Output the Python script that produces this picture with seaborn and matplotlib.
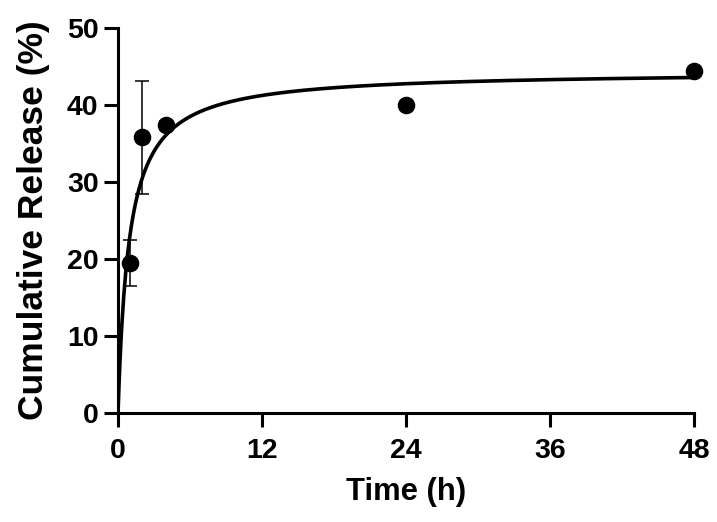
import numpy as np
import pandas as pd
import matplotlib
matplotlib.use("Agg")
import matplotlib.pyplot as plt
import seaborn as sns

# Data
time_h = [1, 2, 4, 24, 48]
release_pct = [19.5, 35.8, 37.4, 40.0, 44.4]
release_sd = [3.0, 7.3, 0.5, 0.4, 0.4]

# Fitted hyperbolic model parameters
fit_bmax = 44.4
fit_k = 0.92

x_ticks = [0, 12, 24, 36, 48]
y_ticks = [0, 10, 20, 30, 40, 50]

sns.set_theme(style="ticks")
plt.rcParams["font.family"] = ["Liberation Sans", "DejaVu Sans"]
plt.rcParams["font.weight"] = "bold"
for k in ["text.color", "axes.labelcolor", "xtick.color", "ytick.color", "axes.edgecolor"]:
    plt.rcParams[k] = "black"

fig = plt.figure(figsize=(7.17, 5.22), dpi=100)
ax = fig.add_axes([0.1646, 0.2088, 0.968 - 0.1646, 0.9464 - 0.2088])

df = pd.DataFrame({"time": time_h, "release": release_pct, "sd": release_sd})

t_fit = np.linspace(0, 48, 600)
fit_df = pd.DataFrame({"time": t_fit, "release": fit_bmax * t_fit / (fit_k + t_fit)})

sns.lineplot(data=fit_df, x="time", y="release", ax=ax, color="black", lw=2.6, zorder=2)
ax.errorbar(df["time"], df["release"], yerr=df["sd"], fmt="none", ecolor="black",
            elinewidth=1.1, capsize=5, capthick=1.1, zorder=3)
sns.scatterplot(data=df, x="time", y="release", ax=ax, color="black", s=160,
                edgecolor="black", linewidth=0, zorder=4, clip_on=False)

ax.set_xlim(0, 48)
ax.set_ylim(0, 50)
ax.set_xticks(x_ticks)
ax.set_yticks(y_ticks)
ax.set_xlabel("Time (h)", fontsize=22.3, fontweight="bold", labelpad=9, color="black")
ax.set_ylabel("Cumulative Release (%)", fontsize=25.5, fontweight="bold", labelpad=12, color="black")
for lab in ax.get_xticklabels() + ax.get_yticklabels():
    lab.set_fontweight("bold")
ax.tick_params(axis="both", which="major", labelsize=20.5, length=10, width=2.2,
               direction="out", color="black", labelcolor="black")
ax.tick_params(axis="x", pad=8)
ax.tick_params(axis="y", pad=4)
sns.despine(ax=ax)
for sp in ["left", "bottom"]:
    ax.spines[sp].set_linewidth(2.2)
    ax.spines[sp].set_color("black")

fig.savefig("out.png", dpi=100)
